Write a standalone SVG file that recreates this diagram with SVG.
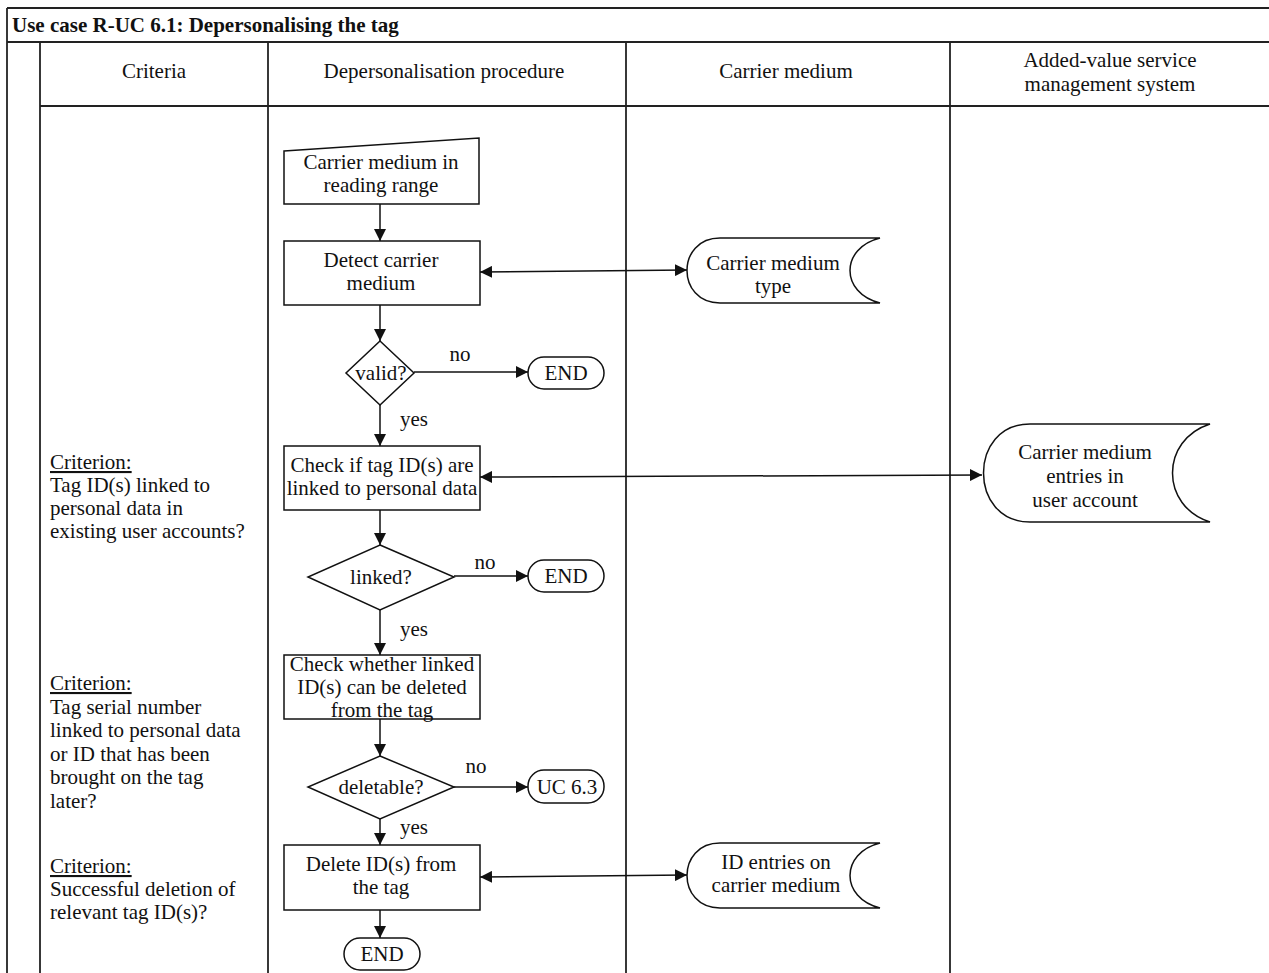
<svg xmlns="http://www.w3.org/2000/svg" width="1269" height="973" viewBox="0 0 1269 973">
  <style>
    text { font-family: "Liberation Serif", "Times New Roman", serif; fill: #111; font-size: 21px; }
    .t { text-anchor: middle; }
    .title { font-weight: bold; }
    .grid { stroke: #222; stroke-width: 1.8; fill: none; }
    .shape { stroke: #111; stroke-width: 1.5; fill: #fff; }
    .edge { stroke: #111; stroke-width: 1.5; fill: none; }
  </style>
  <defs>
    <marker id="ah" viewBox="0 0 10 10" refX="10" refY="5" markerWidth="12" markerHeight="12" markerUnits="userSpaceOnUse" orient="auto-start-reverse">
      <path d="M0,0 L10,5 L0,10 z" fill="#111"/>
    </marker>
  </defs>

  <rect width="1269" height="973" fill="#fff"/>

  <!-- table frame -->
  <g id="table" class="grid">
    <line x1="7" y1="8" x2="1269" y2="8"/>
    <line x1="7" y1="8" x2="7" y2="973"/>
    <line x1="7" y1="42" x2="1269" y2="42"/>
    <line x1="40" y1="42" x2="40" y2="973"/>
    <line x1="40" y1="106" x2="1269" y2="106"/>
    <line x1="268" y1="42" x2="268" y2="973"/>
    <line x1="626" y1="42" x2="626" y2="973"/>
    <line x1="950" y1="42" x2="950" y2="973"/>
  </g>
  <text class="title" x="12" y="32">Use case R-UC 6.1: Depersonalising the tag</text>
  <g id="headers" class="t">
    <text x="154" y="78">Criteria</text>
    <text x="444" y="78">Depersonalisation procedure</text>
    <text x="786" y="78">Carrier medium</text>
    <text x="1110" y="67">Added-value service</text>
    <text x="1110" y="91">management system</text>
  </g>

  <!-- criteria column -->
  <g id="criteria">
    <text x="50" y="469" text-decoration="underline">Criterion:</text>
    <text x="50" y="492">Tag ID(s) linked to</text>
    <text x="50" y="515">personal data in</text>
    <text x="50" y="538">existing user accounts?</text>

    <text x="50" y="690" text-decoration="underline">Criterion:</text>
    <text x="50" y="713.5">Tag serial number</text>
    <text x="50" y="737">linked to personal data</text>
    <text x="50" y="760.5">or ID that has been</text>
    <text x="50" y="784">brought on the tag</text>
    <text x="50" y="807.5">later?</text>

    <text x="50" y="873" text-decoration="underline">Criterion:</text>
    <text x="50" y="896">Successful deletion of</text>
    <text x="50" y="919">relevant tag ID(s)?</text>
  </g>

  <!-- connectors -->
  <g id="connectors" class="edge">
    <line x1="380" y1="204" x2="380" y2="241" marker-end="url(#ah)"/>
    <line x1="380" y1="305" x2="380" y2="341" marker-end="url(#ah)"/>
    <line x1="414" y1="372" x2="528" y2="372" marker-end="url(#ah)"/>
    <line x1="380" y1="405" x2="380" y2="446" marker-end="url(#ah)"/>
    <line x1="380" y1="510" x2="380" y2="545" marker-end="url(#ah)"/>
    <line x1="454" y1="576" x2="528" y2="576" marker-end="url(#ah)"/>
    <line x1="380" y1="610" x2="380" y2="655" marker-end="url(#ah)"/>
    <line x1="380" y1="719" x2="380" y2="756" marker-end="url(#ah)"/>
    <line x1="454" y1="787" x2="528" y2="787" marker-end="url(#ah)"/>
    <line x1="380" y1="819" x2="380" y2="845" marker-end="url(#ah)"/>
    <line x1="380" y1="910" x2="380" y2="938" marker-end="url(#ah)"/>
    <line x1="480" y1="272" x2="687" y2="270" marker-start="url(#ah)" marker-end="url(#ah)"/>
    <line x1="480" y1="477" x2="982" y2="475" marker-start="url(#ah)" marker-end="url(#ah)"/>
    <line x1="480" y1="877" x2="687" y2="875" marker-start="url(#ah)" marker-end="url(#ah)"/>
  </g>
  <g id="edge-labels" class="t">
    <text x="460" y="361">no</text>
    <text x="414" y="426">yes</text>
    <text x="485" y="569">no</text>
    <text x="414" y="636">yes</text>
    <text x="476" y="773">no</text>
    <text x="414" y="834">yes</text>
  </g>

  <!-- procedure nodes -->
  <g id="n-start">
    <path class="shape" d="M284,151 L479,138 L479,204 L284,204 Z"/>
    <text class="t" x="381" y="169">Carrier medium in</text>
    <text class="t" x="381" y="192">reading range</text>
  </g>
  <g id="n-detect">
    <rect class="shape" x="284" y="241" width="196" height="64"/>
    <text class="t" x="381" y="267">Detect carrier</text>
    <text class="t" x="381" y="290">medium</text>
  </g>
  <g id="n-valid">
    <path class="shape" d="M380,341 L414,373 L380,405 L346,373 Z"/>
    <text class="t" x="381" y="380">valid?</text>
  </g>
  <g id="n-end1">
    <rect class="shape" x="528" y="357" width="76" height="32" rx="16"/>
    <text class="t" x="566" y="380">END</text>
  </g>
  <g id="n-check">
    <rect class="shape" x="284" y="446" width="196" height="64"/>
    <text class="t" x="382" y="472">Check if tag ID(s) are</text>
    <text class="t" x="382" y="495">linked to personal data</text>
  </g>
  <g id="n-linked">
    <path class="shape" d="M380,545 L454,577 L380,610 L308,577 Z"/>
    <text class="t" x="381" y="584">linked?</text>
  </g>
  <g id="n-end2">
    <rect class="shape" x="528" y="560" width="76" height="32" rx="16"/>
    <text class="t" x="566" y="583">END</text>
  </g>
  <g id="n-candelete">
    <rect class="shape" x="284" y="655" width="196" height="64"/>
    <text class="t" x="382" y="671">Check whether linked</text>
    <text class="t" x="382" y="694">ID(s) can be deleted</text>
    <text class="t" x="382" y="717">from the tag</text>
  </g>
  <g id="n-deletable">
    <path class="shape" d="M380,756 L454,787 L380,819 L308,787 Z"/>
    <text class="t" x="381" y="794">deletable?</text>
  </g>
  <g id="n-uc63">
    <rect class="shape" x="528" y="770" width="76" height="33" rx="16"/>
    <text class="t" x="567" y="794">UC 6.3</text>
  </g>
  <g id="n-delete">
    <rect class="shape" x="284" y="845" width="196" height="65"/>
    <text class="t" x="381" y="871">Delete ID(s) from</text>
    <text class="t" x="381" y="894">the tag</text>
  </g>
  <g id="n-end3">
    <rect class="shape" x="344" y="938" width="76" height="32" rx="16"/>
    <text class="t" x="382" y="961">END</text>
  </g>

  <!-- stored data -->
  <g id="d-type">
    <path class="shape" d="M720,238 L880,238 C840,248 840,293 880,303 L720,303 C676,303 676,238 720,238 Z"/>
    <text class="t" x="773" y="270">Carrier medium</text>
    <text class="t" x="773" y="293">type</text>
  </g>
  <g id="d-account">
    <path class="shape" d="M1030,424 L1210,424 C1160,440 1160,506 1210,522 L1030,522 C968,522 968,424 1030,424 Z"/>
    <text class="t" x="1085" y="459">Carrier medium</text>
    <text class="t" x="1085" y="483">entries in</text>
    <text class="t" x="1085" y="507">user account</text>
  </g>
  <g id="d-ids">
    <path class="shape" d="M720,843 L880,843 C840,853 840,898 880,908 L720,908 C676,908 676,843 720,843 Z"/>
    <text class="t" x="776" y="869">ID entries on</text>
    <text class="t" x="776" y="892">carrier medium</text>
  </g>
</svg>
